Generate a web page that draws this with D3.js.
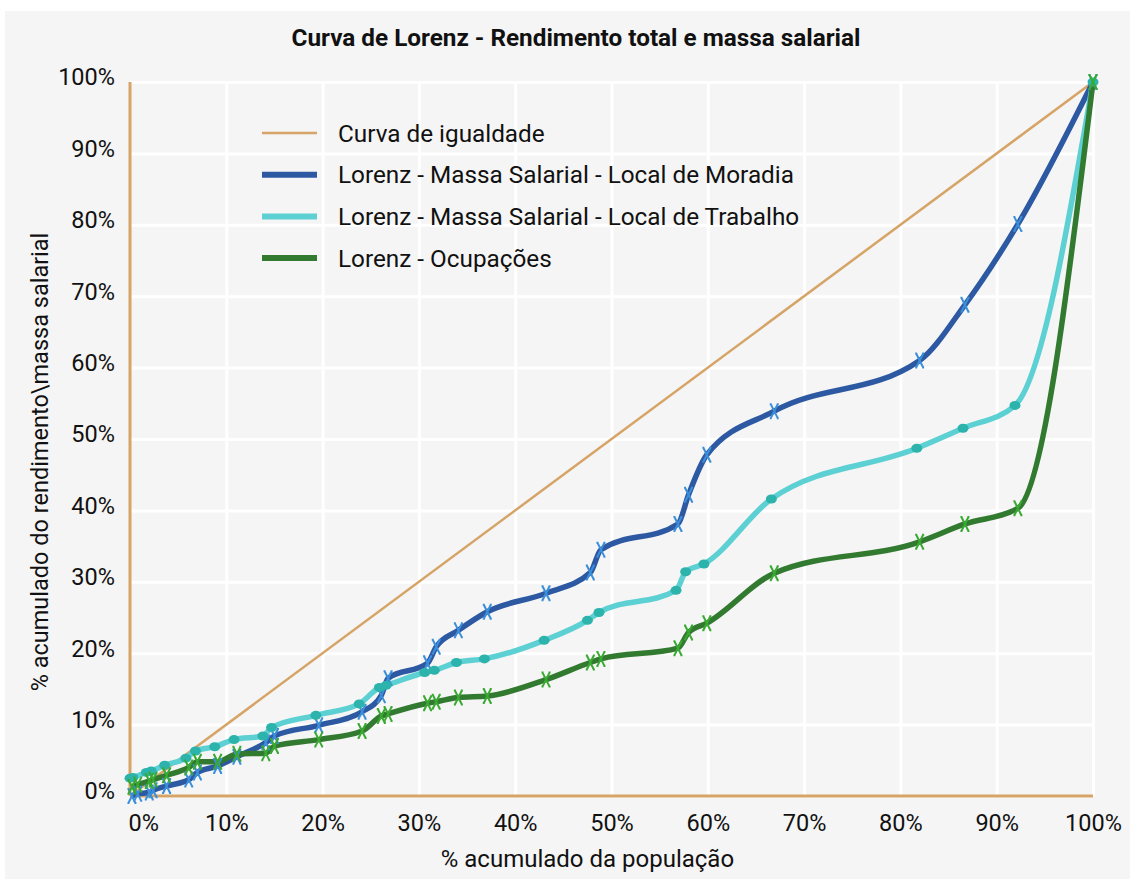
<!DOCTYPE html>
<html>
<head>
<meta charset="utf-8">
<script src="https://cdn.jsdelivr.net/npm/d3@7"></script>
<style>
  body { margin: 0; background: #fff; font-family: Roboto, "Noto Sans", sans-serif; }
  .axis text { font-family: Roboto, sans-serif; font-size: 23.5px; fill: #111; }
</style>
</head>
<body>
<div id="root"></div>
<script>
// population share (x) for the two "Moradia"/"Ocupações" series
const popMoradia = [0.2, 0.8, 2.0, 2.4, 3.8, 6.1, 7.0, 9.1, 11.1, 14.1, 15.0, 19.6, 24.1, 26.1, 26.8, 30.9, 31.8, 34.1, 37.1, 43.2, 47.8, 48.9, 56.9, 58.0, 59.9, 66.9, 82.0, 86.7, 92.2, 100];
const lorenzMoradia = [0, 0.3, 0.5, 0.8, 1.4, 2.3, 3.3, 4.2, 5.5, 7.5, 8.4, 9.9, 11.8, 14.1, 16.5, 18.6, 20.9, 23.2, 25.8, 28.4, 31.3, 34.5, 38.1, 42.2, 47.8, 53.9, 61.0, 68.8, 80.1, 100];
const lorenzOcupacoes = [1.3, 1.6, 2.1, 2.3, 2.9, 4.0, 4.8, 4.8, 5.9, 6.0, 7.0, 7.9, 9.1, 11.2, 11.5, 13.0, 13.2, 13.8, 14.0, 16.3, 18.7, 19.2, 20.7, 22.9, 24.2, 31.2, 35.6, 38.1, 40.3, 100];
const popTrabalho = [0.0, 0.3, 1.7, 2.2, 3.6, 5.8, 6.8, 8.8, 10.8, 13.8, 14.7, 19.3, 23.8, 25.9, 26.6, 30.6, 31.6, 33.9, 36.8, 43.0, 47.5, 48.7, 56.7, 57.7, 59.6, 66.6, 81.7, 86.5, 91.9, 100];
const lorenzTrabalho = [2.5, 2.6, 3.3, 3.5, 4.3, 5.3, 6.3, 6.9, 7.9, 8.4, 9.6, 11.3, 12.9, 15.2, 15.5, 17.3, 17.6, 18.7, 19.2, 21.8, 24.6, 25.7, 28.8, 31.4, 32.5, 41.6, 48.7, 51.5, 54.7, 100];
const igualdadeX = [0, 100];
const igualdadeY = [0, 100];

const tickValues = [0, 10, 20, 30, 40, 50, 60, 70, 80, 90, 100];
const seriesNames = ["Curva de igualdade", "Lorenz - Massa Salarial - Local de Moradia", "Lorenz - Massa Salarial - Local de Trabalho", "Lorenz - Ocupações"];

const outerWidth = 1130;
const outerHeight = 879;
const margin = { top: 82, right: 37, bottom: 83, left: 130 };
const width = outerWidth - margin.left - margin.right;
const height = outerHeight - margin.top - margin.bottom;

const axisColor = "#d6a467";
const series = [
  { name: seriesNames[1], x: popMoradia, y: lorenzMoradia, color: "#2d59a3", mark: "x", markColor: "#3b8fda" },
  { name: seriesNames[2], x: popTrabalho, y: lorenzTrabalho, color: "#5cd0d2", mark: "dot", markColor: "#2cb3ac" },
  { name: seriesNames[3], x: popMoradia, y: lorenzOcupacoes, color: "#337a31", mark: "x", markColor: "#39aa31" }
];

let scaleX = d3.scaleLinear().domain([0, 100]).range([0, width]);
let scaleY = d3.scaleLinear().domain([0, 100]).range([height, 0]);

let svg = d3.select("#root").append("svg")
  .attr("width", outerWidth)
  .attr("height", outerHeight);

svg.append("rect")
  .attr("x", 5).attr("y", 11)
  .attr("width", outerWidth - 5).attr("height", outerHeight - 11)
  .attr("fill", "#f5f5f5");

svg.append("text")
  .attr("x", 576).attr("y", 46)
  .attr("text-anchor", "middle")
  .style("font-family", "Roboto, sans-serif")
  .style("font-weight", "bold")
  .style("font-size", "24.3px")
  .attr("fill", "#111")
  .text("Curva de Lorenz - Rendimento total e massa salarial");

let chart = svg.append("g")
  .attr("transform", `translate(${margin.left}, ${margin.top})`);

// gridlines
chart.append("g")
  .call(d3.axisLeft(scaleY).tickValues(tickValues).tickSize(-width).tickFormat(""))
  .call(g => g.select(".domain").remove())
  .call(g => g.selectAll("line").attr("stroke", "#fff").attr("stroke-width", 3));

chart.append("g")
  .attr("transform", `translate(0, ${height})`)
  .call(d3.axisBottom(scaleX).tickValues(tickValues.slice(1)).tickSize(-height).tickFormat(""))
  .call(g => g.select(".domain").remove())
  .call(g => g.selectAll("line").attr("stroke", "#fff").attr("stroke-width", 3));

// tick labels
chart.append("g")
  .attr("class", "axis")
  .call(d3.axisLeft(scaleY).tickValues(tickValues).tickSize(0).tickPadding(15).tickFormat(d => d + "%"))
  .call(g => g.select(".domain").remove())
  .call(g => g.selectAll("text").attr("dy", "0.12em"));

chart.append("g")
  .attr("class", "axis")
  .attr("transform", `translate(0, ${height})`)
  .call(d3.axisBottom(scaleX).tickValues(tickValues).tickSize(0).tickPadding(18).tickFormat(d => d + "%"))
  .call(g => g.select(".domain").remove())
  .call(g => g.selectAll("text").filter(d => d === 0).attr("text-anchor", "start").attr("x", -2));

// axis titles
svg.append("text")
  .attr("x", margin.left + scaleX(47.5)).attr("y", 867)
  .attr("text-anchor", "middle")
  .style("font-size", "24px")
  .attr("fill", "#111")
  .text("% acumulado da população");

svg.append("text")
  .attr("transform", `translate(48, 462) rotate(-90)`)
  .attr("text-anchor", "middle")
  .style("font-size", "23.5px")
  .attr("fill", "#111")
  .text("% acumulado do rendimento\\massa salarial");

// axis lines
chart.append("line")
  .attr("x1", scaleX(0)).attr("x2", scaleX(0))
  .attr("y1", scaleY(100)).attr("y2", scaleY(0))
  .attr("stroke", axisColor).attr("stroke-width", 3);
chart.append("line")
  .attr("x1", scaleX(0)).attr("x2", scaleX(100))
  .attr("y1", scaleY(0)).attr("y2", scaleY(0))
  .attr("stroke", axisColor).attr("stroke-width", 3);

// equality line
chart.append("path")
  .datum(igualdadeX.map((d, i) => [d, igualdadeY[i]]))
  .attr("fill", "none")
  .attr("stroke", axisColor)
  .attr("stroke-width", 2.5)
  .attr("d", d3.line().x(d => scaleX(d[0])).y(d => scaleY(d[1])));

let line = d3.line()
  .x(d => scaleX(d[0]))
  .y(d => scaleY(d[1]))
  .curve(d3.curveMonotoneX);

series.forEach(s => {
  chart.append("path")
    .datum(s.x.map((d, i) => [d, s.y[i]]))
    .attr("fill", "none")
    .attr("stroke", s.color)
    .attr("stroke-width", 5.5)
    .attr("stroke-linejoin", "round")
    .attr("d", line);
});

const xMark = "M-3.5,-7L3.5,7M3.5,-7L-3.5,7M-4.5,-7L-2.5,-7M2.5,-7L4.5,-7M-4.5,7L-2.5,7M2.5,7L4.5,7";

series.forEach(s => {
  let pts = s.x.map((d, i) => [d, s.y[i]]);
  let g = chart.append("g");
  if (s.mark === "dot") {
    g.selectAll("ellipse").data(pts).enter().append("ellipse")
      .attr("cx", d => scaleX(d[0])).attr("cy", d => scaleY(d[1]))
      .attr("rx", 5.5).attr("ry", 4.5)
      .attr("fill", s.markColor);
  } else {
    g.selectAll("path").data(pts).enter().append("path")
      .attr("transform", d => `translate(${scaleX(d[0])}, ${scaleY(d[1])})`)
      .attr("d", xMark)
      .attr("fill", "none")
      .attr("stroke", s.markColor)
      .attr("stroke-width", 2);
  }
});

// legend
const legendColors = [axisColor, series[0].color, series[1].color, series[2].color];
const legendWidths = [2.5, 6, 6, 6];
let legend = svg.append("g").attr("transform", "translate(262, 133)");
let item = legend.selectAll("g").data(seriesNames).enter().append("g")
  .attr("transform", (d, i) => `translate(0, ${i * 41.7})`);
item.append("line")
  .attr("x1", 0).attr("x2", 55)
  .attr("stroke", (d, i) => legendColors[i])
  .attr("stroke-width", (d, i) => legendWidths[i]);
item.append("text")
  .attr("x", 76).attr("dy", "0.35em")
  .style("font-size", "24.3px")
  .attr("fill", "#111")
  .text(d => d);
</script>
</body>
</html>
